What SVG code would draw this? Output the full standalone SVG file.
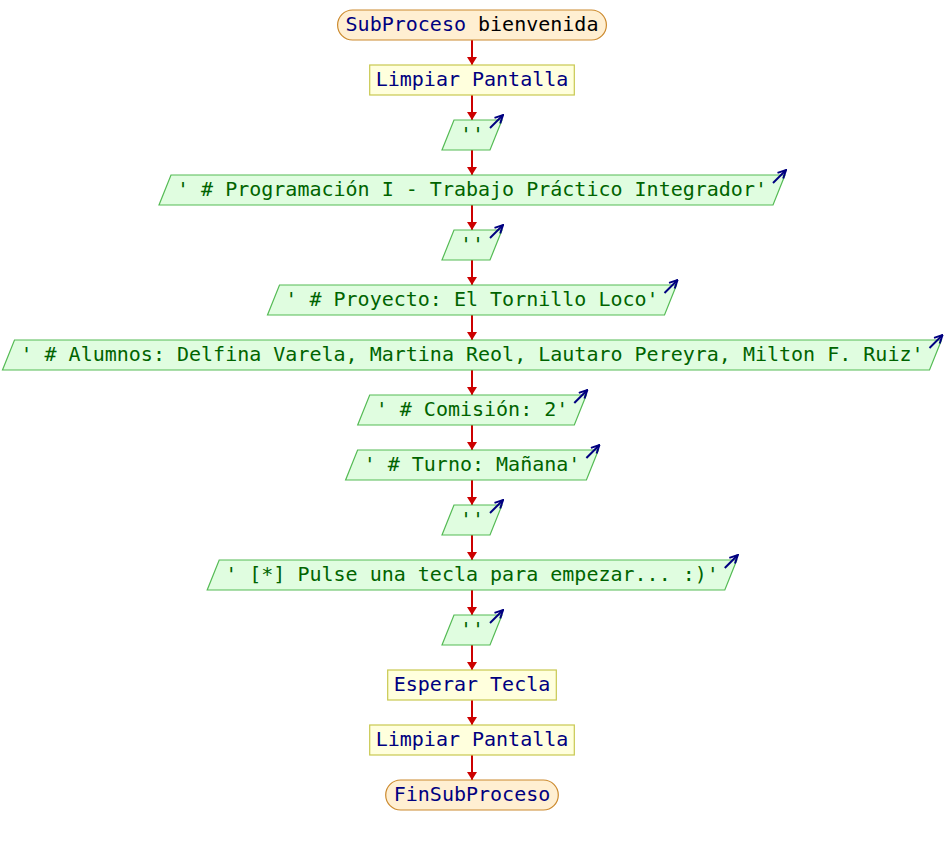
<svg xmlns="http://www.w3.org/2000/svg" width="944" height="845" viewBox="0 0 944 845">
<style>
text{font-family:"DejaVu Sans Mono","Liberation Mono",monospace;font-size:20px;text-anchor:middle}
.term{fill:#ffefd2;stroke:#cc8a2e;stroke-width:1.2}
.proc{fill:#ffffdd;stroke:#c8c850;stroke-width:1.2}
.io{fill:#e0fde0;stroke:#55bb55;stroke-width:1.2}
.tb{fill:#000080}
.tk{fill:#000000}
.tg{fill:#006400}
.conn{stroke:#cc0000;stroke-width:2;fill:none}
.out{stroke:#000080;stroke-width:2;fill:none}
</style>
<defs>
<marker id="ah" viewBox="0 0 8 10" refX="8" refY="5" markerWidth="8" markerHeight="10" markerUnits="userSpaceOnUse" orient="auto"><path d="M0,0 L8,5 L0,10 z" fill="#cc0000"/></marker>
<marker id="oh" viewBox="0 0 10 10" refX="9" refY="5" markerWidth="10" markerHeight="10" markerUnits="userSpaceOnUse" orient="auto"><path d="M1,1 L9,5 L1,9" fill="none" stroke="#000080" stroke-width="2"/></marker>
</defs>
<g id="connectors">
<path class="conn" marker-end="url(#ah)" d="M472,40 V65"/>
<path class="conn" marker-end="url(#ah)" d="M472,95 V120"/>
<path class="conn" marker-end="url(#ah)" d="M472,150 V175"/>
<path class="conn" marker-end="url(#ah)" d="M472,205 V230"/>
<path class="conn" marker-end="url(#ah)" d="M472,260 V285"/>
<path class="conn" marker-end="url(#ah)" d="M472,315 V340"/>
<path class="conn" marker-end="url(#ah)" d="M472,370 V395"/>
<path class="conn" marker-end="url(#ah)" d="M472,425 V450"/>
<path class="conn" marker-end="url(#ah)" d="M472,480 V505"/>
<path class="conn" marker-end="url(#ah)" d="M472,535 V560"/>
<path class="conn" marker-end="url(#ah)" d="M472,590 V615"/>
<path class="conn" marker-end="url(#ah)" d="M472,645 V670"/>
<path class="conn" marker-end="url(#ah)" d="M472,700 V725"/>
<path class="conn" marker-end="url(#ah)" d="M472,755 V780"/>
</g>
<g id="n1"><rect class="term" x="337.6" y="10" width="268.8" height="30" rx="15"/><text x="472" y="31"><tspan class="tb">SubProceso</tspan><tspan class="tk"> bienvenida</tspan></text></g>
<g id="n2"><rect class="proc" x="369.7" y="65" width="204.6" height="30"/><text class="tb" x="472" y="86">Limpiar Pantalla</text></g>
<g id="n3"><path class="io" d="M454,120 H502 L490,150 H442 Z"/><text class="tg" x="472" y="141">''</text><path class="out" marker-end="url(#oh)" d="M490,128 L503,115"/></g>
<g id="n4"><path class="io" d="M171,175 H785 L773,205 H159 Z"/><text class="tg" x="472" y="196">' # Programación I - Trabajo Práctico Integrador'</text><path class="out" marker-end="url(#oh)" d="M773,183 L786,170"/></g>
<g id="n5"><path class="io" d="M454,230 H502 L490,260 H442 Z"/><text class="tg" x="472" y="251">''</text><path class="out" marker-end="url(#oh)" d="M490,238 L503,225"/></g>
<g id="n6"><path class="io" d="M279.5,285 H676.5 L664.5,315 H267.5 Z"/><text class="tg" x="472" y="306">' # Proyecto: El Tornillo Loco'</text><path class="out" marker-end="url(#oh)" d="M664.5,293 L677.5,280"/></g>
<g id="n7"><path class="io" d="M14.5,340 H941.5 L929.5,370 H2.5 Z"/><text class="tg" x="472" y="361">' # Alumnos: Delfina Varela, Martina Reol, Lautaro Pereyra, Milton F. Ruiz'</text><path class="out" marker-end="url(#oh)" d="M929.5,348 L942.5,335"/></g>
<g id="n8"><path class="io" d="M369.7,395 H586.3 L574.3,425 H357.7 Z"/><text class="tg" x="472" y="416">' # Comisión: 2'</text><path class="out" marker-end="url(#oh)" d="M574.3,403 L587.3,390"/></g>
<g id="n9"><path class="io" d="M357.6,450 H598.4 L586.4,480 H345.6 Z"/><text class="tg" x="472" y="471">' # Turno: Mañana'</text><path class="out" marker-end="url(#oh)" d="M586.4,458 L599.4,445"/></g>
<g id="n10"><path class="io" d="M454,505 H502 L490,535 H442 Z"/><text class="tg" x="472" y="526">''</text><path class="out" marker-end="url(#oh)" d="M490,513 L503,500"/></g>
<g id="n11"><path class="io" d="M219.2,560 H736.8 L724.8,590 H207.2 Z"/><text class="tg" x="472" y="581">' [*] Pulse una tecla para empezar... :)'</text><path class="out" marker-end="url(#oh)" d="M724.8,568 L737.8,555"/></g>
<g id="n12"><path class="io" d="M454,615 H502 L490,645 H442 Z"/><text class="tg" x="472" y="636">''</text><path class="out" marker-end="url(#oh)" d="M490,623 L503,610"/></g>
<g id="n13"><rect class="proc" x="387.7" y="670" width="168.6" height="30"/><text class="tb" x="472" y="691">Esperar Tecla</text></g>
<g id="n14"><rect class="proc" x="369.7" y="725" width="204.6" height="30"/><text class="tb" x="472" y="746">Limpiar Pantalla</text></g>
<g id="n15"><rect class="term" x="385.7" y="780" width="172.6" height="30" rx="15"/><text class="tb" x="472" y="801">FinSubProceso</text></g>
</svg>
